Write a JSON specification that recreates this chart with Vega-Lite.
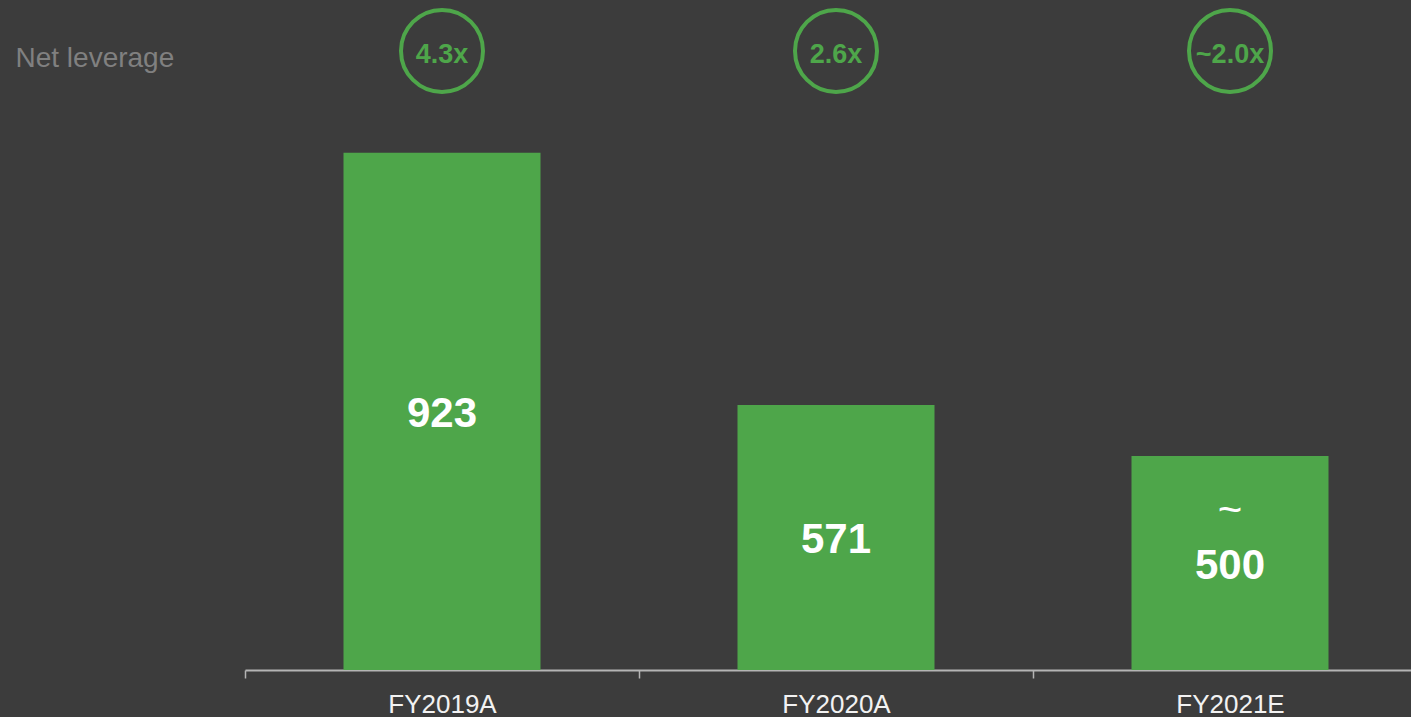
{
  "$schema": "https://vega.github.io/schema/vega-lite/v6.json",
  "autosize": {"type": "none"},
  "width": 1166,
  "height": 670,
  "padding": {"left": 245, "top": 0, "right": 0, "bottom": 47},
  "background": "#3c3c3c",
  "config": {"view": {"stroke": null}, "font": "Liberation Sans"},
  "data": {"values": [
    {"year": "FY2019A", "value": 923, "label": "923", "prefix": "", "leverage": "4.3x"},
    {"year": "FY2020A", "value": 571, "label": "571", "prefix": "", "leverage": "2.6x"},
    {"year": "FY2021E", "value": 500, "label": "500", "prefix": "~", "leverage": "~2.0x"}
  ]},
  "encoding": {
    "x": {
      "field": "year", "type": "nominal", "sort": null,
      "scale": {"range": [0, 1182], "paddingInner": 0, "paddingOuter": 0},
      "axis": {
        "title": null, "labelAngle": 0, "tickBand": "extent",
        "domainColor": "#b4b4b4", "domainWidth": 2, "tickColor": "#b4b4b4", "tickWidth": 1.5, "tickSize": 8,
        "labelColor": "#f2f2f2", "labelFontSize": 26, "labelFont": "Liberation Sans", "labelPadding": 13
      }
    }
  },
  "layer": [
    {
      "mark": {"type": "bar", "color": "#4ea64a", "width": {"band": 0.5}},
      "encoding": {
        "y": {
          "field": "value", "type": "quantitative",
          "scale": {"domain": [201.3, 1136], "zero": false, "nice": false},
          "axis": {
            "title": "Net leverage", "labels": false, "ticks": false, "domain": false, "grid": false,
            "titleAngle": 0, "titleX": -230, "titleY": 66, "titleAlign": "left", "titleBaseline": "alphabetic",
            "titleFontSize": 28, "titleFontWeight": "normal", "titleColor": "#808080", "titleFont": "Liberation Sans"
          }
        },
        "y2": {"datum": 201.3}
      }
    },
    {
      "mark": {"type": "point", "shape": "circle", "size": 6724, "filled": false, "stroke": "#4ea64a", "strokeWidth": 4, "opacity": 1},
      "encoding": {
        "y": {"datum": 1065, "type": "quantitative", "scale": {"domain": [201.3, 1136], "zero": false, "nice": false}, "axis": null}
      }
    },
    {
      "mark": {"type": "text", "color": "#4ea64a", "fontSize": 27, "fontWeight": "bold", "font": "Liberation Sans", "baseline": "middle", "align": "center", "dy": 4},
      "encoding": {
        "y": {"datum": 1065, "type": "quantitative", "scale": {"domain": [201.3, 1136], "zero": false, "nice": false}, "axis": null},
        "text": {"field": "leverage"}
      }
    },
    {
      "mark": {"type": "text", "color": "#ffffff", "fontSize": 42, "fontWeight": "bold", "font": "Liberation Sans", "baseline": "middle", "align": "center", "dy": 3},
      "encoding": {
        "y": {"field": "value", "type": "quantitative", "scale": {"domain": [201.3, 2070.7], "zero": false, "nice": false}, "axis": null},
        "text": {"field": "label"}
      }
    },
    {
      "mark": {"type": "text", "color": "#ffffff", "fontSize": 42, "fontWeight": "normal", "font": "Liberation Sans", "baseline": "middle", "align": "center", "dy": -52},
      "encoding": {
        "y": {"field": "value", "type": "quantitative", "scale": {"domain": [201.3, 2070.7], "zero": false, "nice": false}, "axis": null},
        "text": {"field": "prefix"}
      }
    }
  ],
  "resolve": {"scale": {"y": "independent"}}
}
